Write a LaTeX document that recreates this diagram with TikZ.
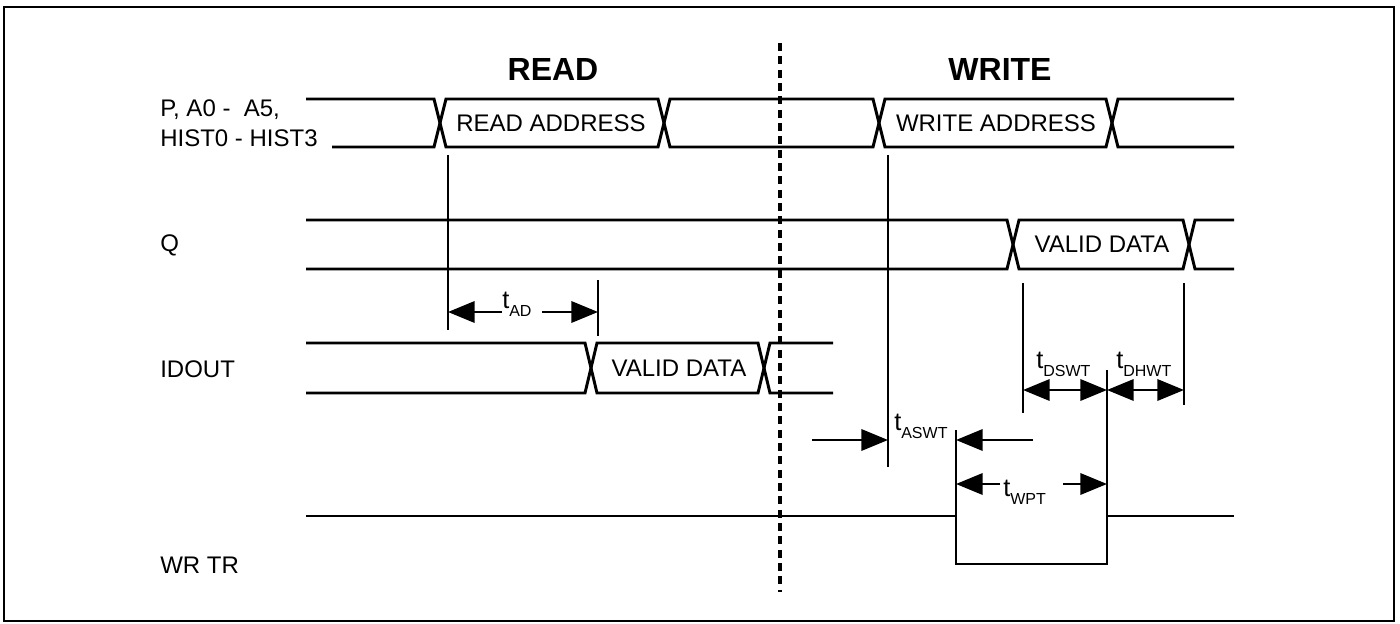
\documentclass[tikz,border=0pt]{standalone}
\usepackage{fontspec}
\setmainfont{Liberation Sans}
\usetikzlibrary{arrows.meta}

% timing label: t with lowered subscript
\newcommand{\tsym}[1]{{\fontsize{19}{19}\selectfont t}\raisebox{-6.5pt}{\fontsize{12}{12}\selectfont #1}}

\begin{document}
\begin{tikzpicture}[x=0.75pt,y=0.75pt,yscale=-1,xscale=1,
	sig/.style={line width=2.2pt, line join=miter},
	ext/.style={line width=0.9pt},
	dim/.style={line width=1.8pt, -{Triangle[length=20pt,width=16pt]}},
	dimboth/.style={line width=1.8pt, {Triangle[length=20pt,width=16pt]}-{Triangle[length=20pt,width=16pt]}},
	lbl/.style={inner sep=0pt, font=\fontsize{18}{18}\selectfont},
	ttl/.style={inner sep=0pt, font=\fontsize{24}{24}\selectfont\bfseries}]
			
			\useasboundingbox (0,0) rectangle (1400,624);
			
			%Shape: Rectangle [id:frame] 
			\draw  [line width=1.8pt] (4,7) rectangle (1394,621) ;
			%Straight Lines [id:split] 
			\draw  [line width=3pt, dash pattern=on 6pt off 4pt]  (780,43) -- (780,592) ;
			
			%Bus: address 
			\draw  [sig]  (306,99) -- (434,99) -- (446,147) -- (658,147) -- (670,99) -- (873,99) -- (885,147) -- (1106,147) -- (1118,99) -- (1234,99) ;
			\draw  [sig]  (332,147) -- (434,147) -- (446,99) -- (658,99) -- (670,147) -- (873,147) -- (885,99) -- (1106,99) -- (1118,147) -- (1234,147) ;
			%Bus: Q 
			\draw  [sig]  (306,220) -- (1007,220) -- (1019,269) -- (1183,269) -- (1195,220) -- (1234,220) ;
			\draw  [sig]  (306,269) -- (1007,269) -- (1019,220) -- (1183,220) -- (1195,269) -- (1234,269) ;
			%Bus: IDOUT 
			\draw  [sig]  (306,343) -- (585,343) -- (597,393) -- (758,393) -- (770,343) -- (833,343) ;
			\draw  [sig]  (306,393) -- (585,393) -- (597,343) -- (758,343) -- (770,393) -- (833,393) ;
			%Line: WR TR 
			\draw  [sig]  (306,516) -- (956,516) -- (956,564) -- (1107,564) -- (1107,516) -- (1234,516) ;
			
			%Straight Lines [id:ext] 
			\draw  [ext]  (448,155) -- (448,330) ;
			\draw  [ext]  (598,280) -- (598,336) ;
			\draw  [ext]  (888,155) -- (888,467) ;
			\draw  [ext]  (1023,283) -- (1023,413) ;
			\draw  [ext]  (1184,283) -- (1184,405) ;
			\draw  [ext]  (956,430) -- (956,516) ;
			\draw  [ext]  (1107,370) -- (1107,516) ;
			
			% Text Node
			\node [ttl] (read) at (553,69) {READ};
			% Text Node
			\node [ttl] (write) at (1000,69) {WRITE};
			% Text Node
			\node [lbl, anchor=base west] (addr1) at (160,117) {P, A0 -\ \ A5,};
			% Text Node
			\node [lbl, anchor=base west] (addr2) at (160,147) {HIST0 - HIST3};
			% Text Node
			\node [lbl, anchor=base west] (q) at (160,252) {Q};
			% Text Node
			\node [lbl, anchor=base west] (idout) at (160,377) {IDOUT};
			% Text Node
			\node [lbl, anchor=base west] (wrtr) at (160,573) {WR TR};
			% Text Node
			\node [lbl] (raddr) at (551,123) {READ ADDRESS};
			% Text Node
			\node [lbl] (waddr) at (996,123) {WRITE ADDRESS};
			% Text Node
			\node [lbl] (qdata) at (1102,244) {VALID DATA};
			% Text Node
			\node [lbl] (iddata) at (679,368) {VALID DATA};
			
			% Text Node
			\node [inner sep=0pt, anchor=base west] (tad) at (502,308) {\tsym{AD}};
			% Text Node
			\node [inner sep=0pt, anchor=base west] (taswt) at (894,430) {\tsym{ASWT}};
			% Text Node
			\node [inner sep=0pt, anchor=base west] (twpt) at (1003,496) {\tsym{WPT}};
			% Text Node
			\node [inner sep=0pt, anchor=base west] (tdswt) at (1036,368) {\tsym{DSWT}};
			% Text Node
			\node [inner sep=0pt, anchor=base west] (tdhwt) at (1116,368) {\tsym{DHWT}};
			
			% arrow ends
			\coordinate (adL) at (448,312) ;
			\coordinate (adR) at (598,312) ;
			\coordinate (adA) at (502,312) ;
			\coordinate (adB) at (542,312) ;
			\coordinate (asL) at (888,440) ;
			\coordinate (asR) at (956,440) ;
			\coordinate (asA) at (812,440) ;
			\coordinate (asB) at (1033,440) ;
			\coordinate (wpL) at (956,484) ;
			\coordinate (wpR) at (1107,484) ;
			\coordinate (wpA) at (1000,484) ;
			\coordinate (wpB) at (1063,484) ;
			\coordinate (dsL) at (1023,390) ;
			\coordinate (dsR) at (1107,390) ;
			\coordinate (dhR) at (1184,390) ;
			
			%Straight Lines [id:arrows] 
			\draw  [dim]  (adA) -- (adL) ;
			\draw  [dim]  (adB) -- (adR) ;
			\draw  [dim]  (asA) -- (asL) ;
			\draw  [dim]  (asB) -- (asR) ;
			\draw  [dim]  (wpA) -- (wpL) ;
			\draw  [dim]  (wpB) -- (wpR) ;
			\draw  [dimboth]  (dsL) -- (dsR) ;
			\draw  [dimboth]  (dsR) -- (dhR) ;
			
		\end{tikzpicture}
\end{document}
